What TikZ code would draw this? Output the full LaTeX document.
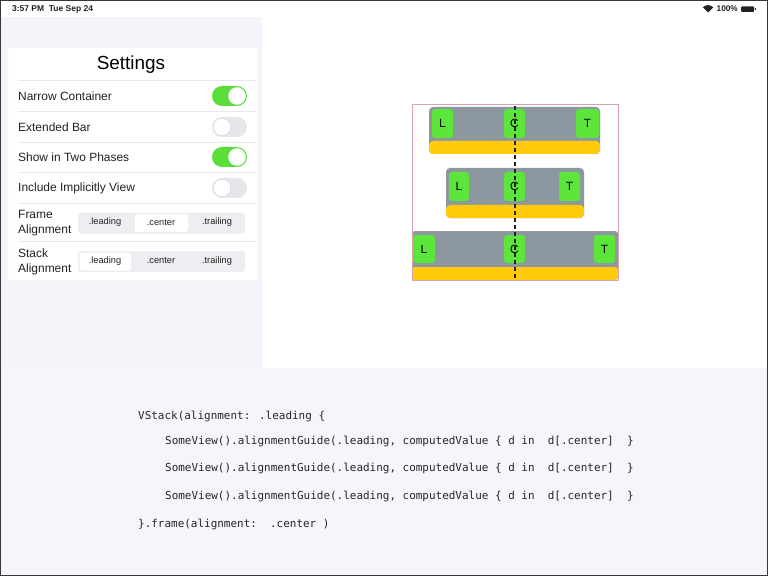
\documentclass[tikz,border=0pt]{standalone}
\usepackage{fontspec}
\setmainfont{Liberation Sans}
\newfontfamily\codefont{DejaVu Sans Mono}
\definecolor{sidebg}{HTML}{F4F5FA}
\definecolor{bottombg}{HTML}{F5F6FA}
\definecolor{sepline}{HTML}{E8E9ED}
\definecolor{segbg}{HTML}{EDEEF1}
\definecolor{tgreen}{HTML}{5BDE3A}
\definecolor{toff}{HTML}{E6E7EA}
\definecolor{bargray}{HTML}{8C979F}
\definecolor{baryellow}{HTML}{FFCB0A}
\definecolor{boxgreen}{HTML}{5CE53A}
\definecolor{framepink}{HTML}{D9A3B1}
\definecolor{ink}{HTML}{222222}
\definecolor{codeink}{HTML}{262626}
\tikzset{
  rowlabel/.style={anchor=west, inner sep=0pt, font=\fontsize{12}{14}\selectfont, text=ink},
  seglabel/.style={inner sep=0pt, font=\fontsize{9.3}{11}\selectfont, text=ink},
  codeline/.style={anchor=west, inner sep=0pt, font=\fontsize{11}{13}\codefont, text=codeink},
  letterbox/.style={fill=boxgreen, rounded corners=3bp, minimum width=21bp, minimum height=29bp, inner sep=0pt, font=\fontsize{12}{14}\selectfont, text=black},
  sepstyle/.style={draw=sepline, line width=0.8bp},
}
\begin{document}
\begin{tikzpicture}[x=1bp,y=-1bp]
\useasboundingbox (0,0) rectangle (768,576);
% backgrounds
\fill[white] (0,0) rectangle (768,368);
\fill[sidebg] (0,17) rectangle (262,368);
\fill[bottombg] (0,368) rectangle (768,576);
% status bar
\node[anchor=west, inner sep=0pt, font=\fontsize{8.5}{10}\selectfont\bfseries, text=ink] (time) at (12,9) {3:57 PM\ \ Tue Sep 24};
\node[anchor=east, inner sep=0pt, font=\fontsize{8.3}{10}\selectfont\bfseries, text=ink] (batt) at (738,9) {100\%};
\fill[ink, rounded corners=1bp] (741,6.5) rectangle (754,12);
\fill[ink] (754.5,8) rectangle (755.5,10.5);
\coordinate (wifi) at (708,12.5);
\fill[ink] (wifi) -- ++(-5.2,-5.2) arc[start angle=225, end angle=315, radius=7.35] -- cycle;
% settings card
\fill[white] (8,48) rectangle (257,280);
\node[inner sep=0pt, font=\fontsize{19}{22}\selectfont, text=black] (title) at (131,65) {Settings};
\draw[sepstyle] (18,80.5) -- (257,80.5);
\draw[sepstyle] (18,111.5) -- (257,111.5);
\draw[sepstyle] (18,142) -- (257,142);
\draw[sepstyle] (18,172.5) -- (257,172.5);
\draw[sepstyle] (18,203) -- (257,203);
\draw[sepstyle] (18,241.5) -- (257,241.5);
\node[rowlabel] (r1) at (18,96.5) {Narrow Container};
\node[rowlabel] (r2) at (18,127) {Extended Bar};
\node[rowlabel] (r3) at (18,157.5) {Show in Two Phases};
\node[rowlabel] (r4) at (18,188) {Include Implicitly View};
\node[rowlabel, align=left, font=\fontsize{12}{15}\selectfont] (r5) at (18,223) {Frame\\Alignment};
\node[rowlabel, align=left, font=\fontsize{12}{15}\selectfont] (r6) at (18,261.5) {Stack\\Alignment};
% toggles
\fill[tgreen, rounded corners=10bp] (212,86) rectangle (247,106);
\fill[white] (237,96) circle[radius=8.8];
\fill[toff, rounded corners=10bp] (212,117) rectangle (247,137);
\filldraw[fill=white, draw=toff!80!gray, line width=0.4bp] (222,127) circle[radius=8.8];
\fill[tgreen, rounded corners=10bp] (212,147) rectangle (247,167);
\fill[white] (237,157) circle[radius=8.8];
\fill[toff, rounded corners=10bp] (212,178) rectangle (247,198);
\filldraw[fill=white, draw=toff!80!gray, line width=0.4bp] (222,188) circle[radius=8.8];
% segmented controls
\fill[segbg, rounded corners=3bp] (78,212.5) rectangle (245,233.5);
\fill[white, rounded corners=3bp] (135,214) rectangle (188,232);
\node[seglabel] (f1) at (105,222.5) {.leading};
\node[seglabel] (f2) at (161,222.5) {.center};
\node[seglabel] (f3) at (217,222.5) {.trailing};
\fill[segbg, rounded corners=3bp] (78,251) rectangle (245,272);
\fill[white, rounded corners=3bp] (79.5,252.5) rectangle (131,270.5);
\node[seglabel] (s1) at (105,261) {.leading};
\node[seglabel] (s2) at (161,261) {.center};
\node[seglabel] (s3) at (217,261) {.trailing};
% diagram bars
\fill[bargray, rounded corners=4bp] (429,107) rectangle (600,154);
\fill[baryellow, rounded corners=4bp] (429,141) rectangle (600,154);
\fill[bargray, rounded corners=4bp] (446,168) rectangle (584,218);
\fill[baryellow, rounded corners=4bp] (446,205) rectangle (584,218);
\fill[bargray, rounded corners=3bp] (412,231) rectangle (618,280);
\fill[baryellow, rounded corners=3bp] (412,267) rectangle (618,280);
\draw[framepink, line width=1bp] (412,105) rectangle (618,280);
\node[letterbox] (L1) at (442.5,123.5) {L};
\node[letterbox] (C1) at (514.5,123.5) {C};
\node[letterbox, minimum width=23bp] (T1) at (587.5,123.5) {T};
\node[letterbox, minimum width=20bp] (L2) at (459,186.5) {L};
\node[letterbox] (C2) at (514.5,186.5) {C};
\node[letterbox] (T2) at (569.5,186.5) {T};
\node[letterbox, minimum width=22bp, minimum height=28bp] (L3) at (424,249) {L};
\node[letterbox, minimum height=28bp] (C3) at (514.5,249) {C};
\node[letterbox, minimum height=28bp] (T3) at (604.5,249) {T};
\coordinate (dtop) at (515,106);
\coordinate (dbot) at (515,280);
\draw[ink, line width=2bp, dash pattern=on 4bp off 3bp] (dtop) -- (dbot);
% code
\node[codeline] (c1) at (138,416) {VStack(alignment: .leading \{};
\node[codeline] (c2) at (165,441) {SomeView().alignmentGuide(.leading, computedValue \{ d in\ \ d[.center]\ \ \}};
\node[codeline] (c3) at (165,468.5) {SomeView().alignmentGuide(.leading, computedValue \{ d in\ \ d[.center]\ \ \}};
\node[codeline] (c4) at (165,496.5) {SomeView().alignmentGuide(.leading, computedValue \{ d in\ \ d[.center]\ \ \}};
\node[codeline] (c5) at (138,524) {\}.frame(alignment:\ \ .center )};
% outer border
\draw[ink!90, line width=1.5bp] (0.75,0.75) rectangle (767.25,575.25);
\end{tikzpicture}
\end{document}
